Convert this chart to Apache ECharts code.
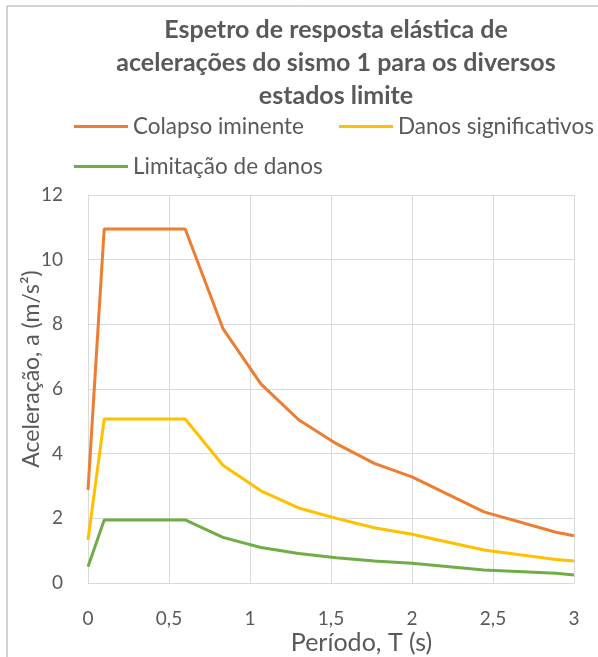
<!DOCTYPE html>
<html>
<head>
<meta charset="utf-8">
<script src="https://cdn.jsdelivr.net/npm/echarts@6/dist/echarts.min.js"></script>
<style>
html,body{margin:0;padding:0;background:#fff;}
#c{width:598px;height:657px;}
</style>
</head>
<body>
<div id="c"></div>
<script>
const periods = [0, 0.1, 0.6, 0.833, 1.067, 1.3, 1.533, 1.767, 2.0, 2.444, 2.889, 3.0];
const colapso = [2.88, 10.95, 10.95, 7.87, 6.16, 5.05, 4.31, 3.70, 3.28, 2.20, 1.57, 1.46];
const danos = [1.33, 5.07, 5.07, 3.64, 2.85, 2.32, 2.00, 1.71, 1.51, 1.02, 0.73, 0.68];
const limitacao = [0.50, 1.95, 1.95, 1.41, 1.10, 0.91, 0.78, 0.68, 0.61, 0.40, 0.30, 0.25];
const seriesNames = ['Colapso iminente', 'Danos significativos', 'Limitação de danos'];
const colors = ['#ED7D31', '#FFC000', '#70AD47'];
const xTicks = ['0', '0,5', '1', '1,5', '2', '2,5', '3'];
const yTicks = ['0', '2', '4', '6', '8', '10', '12'];

const FONT = 'Lato';
const GRAY = '#595959';
function pairs(ys){ return periods.map((x,i)=>[x, ys[i]]); }

const chart = echarts.init(document.getElementById('c'));
chart.setOption({
  animation: false,
  backgroundColor: '#fff',
  title: {
    text: 'Espetro de resposta elástica de\nacelerações do sismo 1 para os diversos\nestados limite',
    left: 331, top: 8, textAlign: 'center',
    textStyle: {fontFamily: FONT, fontWeight: 'bold', fontSize: 25, color: GRAY, lineHeight: 33}
  },
  legend: [
    {data: [seriesNames[0], seriesNames[1]], left: 69, top: 110, width: 580, icon: 'rect', itemWidth: 54, itemHeight: 3, itemGap: 35,
     textStyle: {fontFamily: FONT, fontSize: 22.5, color: GRAY, padding: [0,0,0,0]}},
    {data: [seriesNames[2]], left: 69, top: 150, width: 580, icon: 'rect', itemWidth: 54, itemHeight: 3,
     textStyle: {fontFamily: FONT, fontSize: 22.5, color: GRAY, padding: [0,0,0,0]}}
  ],
  grid: {left: 88, top: 195, right: 24, bottom: 74, containLabel: false, outerBoundsMode: 'none', show: false},
  xAxis: {
    type: 'value', min: 0, max: 3, interval: 0.5,
    name: 'Período, T (s)', nameLocation: 'middle', nameGap: 47, nameMoveOverlap: false,
    nameTextStyle: {fontFamily: FONT, fontSize: 25, color: GRAY, padding: [0, 0, 0, 61]},
    axisLine: {show: true, lineStyle: {color: '#d9d9d9', width: 1}},
    axisTick: {show: false},
    axisLabel: {fontFamily: FONT, fontSize: 19, color: GRAY, margin: 26,
      formatter: v => xTicks[Math.round(v/0.5)]},
    splitLine: {show: true, lineStyle: {color: '#d9d9d9', width: 1}}
  },
  yAxis: {
    type: 'value', min: 0, max: 12, interval: 2,
    name: 'Aceleração, a (m/s²)', nameLocation: 'middle', nameGap: 45, nameMoveOverlap: false,
    nameTextStyle: {fontFamily: FONT, fontSize: 23, color: GRAY, padding: [0, 0, 0, 40]},
    axisLine: {show: true, lineStyle: {color: '#d9d9d9', width: 1}},
    axisTick: {show: false},
    axisLabel: {fontFamily: FONT, fontSize: 19, color: GRAY, margin: 25,
      formatter: v => yTicks[Math.round(v/2)]},
    splitLine: {show: true, lineStyle: {color: '#d9d9d9', width: 1}}
  },
  series: [colapso, danos, limitacao].map((d,i)=>({
    name: seriesNames[i], type: 'line', data: pairs(d), showSymbol: false, symbol: 'none',
    lineStyle: {color: colors[i], width: 3}, itemStyle: {color: colors[i]}, z: 3 - i
  })),
  graphic: [
    {type: 'line', shape: {x1: 7, y1: 6, x2: 598, y2: 6}, style: {stroke: '#a6a6a6', lineWidth: 1}},
    {type: 'line', shape: {x1: 7, y1: 6, x2: 7, y2: 657}, style: {stroke: '#a6a6a6', lineWidth: 1}}
  ]
});
</script>
</body>
</html>
